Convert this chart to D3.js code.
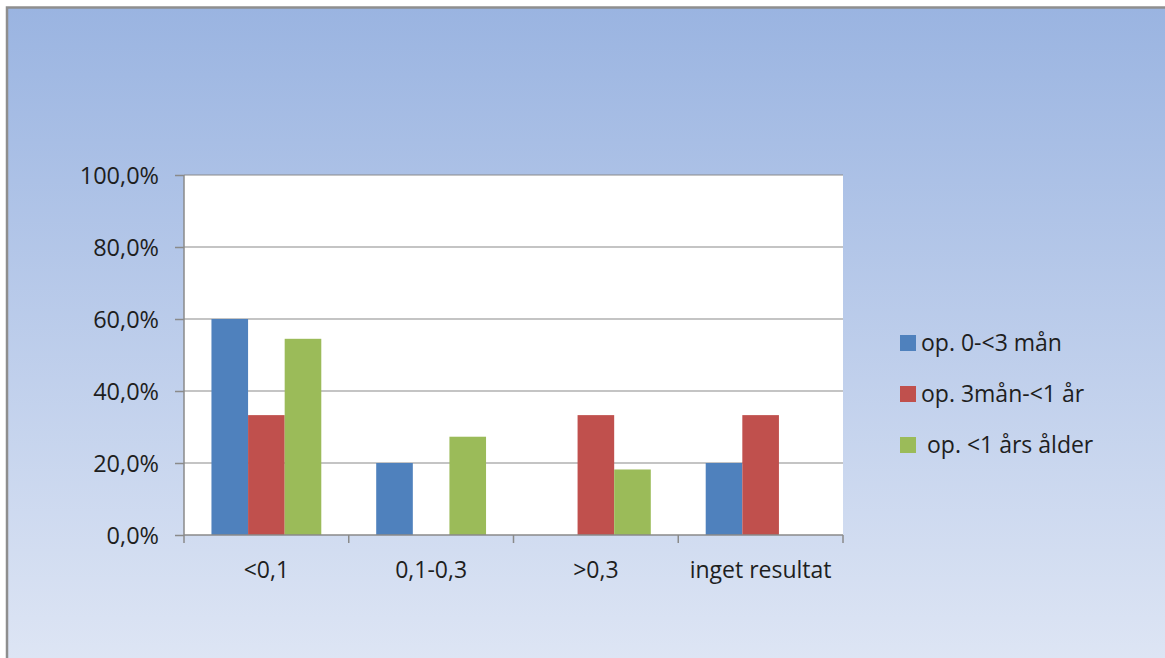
<!DOCTYPE html>
<html><head><meta charset="utf-8">
<script src="https://cdn.jsdelivr.net/npm/d3@7"></script>
<style>html,body{margin:0;padding:0;background:#fff;}svg{display:block;}text{font-family:"Open Sans",sans-serif;fill:#1e1e1e;white-space:pre;}</style>
</head><body>
<script>
const categories = ["<0,1", "0,1-0,3", ">0,3", "inget resultat"];
const seriesNames = ["op. 0-<3 mån", "op. 3mån-<1 år", " op. <1 års ålder"];
const seriesColors = ["#4f81bd", "#c0504d", "#9bbb59"];
const values0 = [0.60, 0.20, 0.0, 0.20];
const values1 = [0.333, 0.0, 0.333, 0.333];
const values2 = [0.545, 0.273, 0.182, 0.0];
const yTicks = [0, 0.2, 0.4, 0.6, 0.8, 1.0];
const yTickLabels = ["0,0%", "20,0%", "40,0%", "60,0%", "80,0%", "100,0%"];

(function () {
const W = 1165, H = 658;
const svg = d3.select("body").append("svg").attr("width", W).attr("height", H);
const defs = svg.append("defs");
const grad = defs.append("linearGradient").attr("id", "bg").attr("x1", 0).attr("y1", 0).attr("x2", 0).attr("y2", 1);
grad.append("stop").attr("offset", "0%").attr("stop-color", "#9ab4e1");
grad.append("stop").attr("offset", "100%").attr("stop-color", "#e0e7f5");

svg.append("rect").attr("x", 7).attr("y", 7.5).attr("width", W + 20).attr("height", H + 20)
  .attr("fill", "url(#bg)").attr("stroke", "#8e8e8e").attr("stroke-width", 2.5);

const pL = 184, pR = 843, pT = 175, pB = 535;
svg.append("rect").attr("x", pL).attr("y", pT).attr("width", pR - pL).attr("height", pB - pT).attr("fill", "#fff");

const x0 = d3.scaleBand().domain(categories).range([pL, pR]).paddingInner(0).paddingOuter(0);
const bw = x0.bandwidth();
const barW = bw / 4.5;
const gap = (bw - 3 * barW) / 2;
const x1 = d3.scaleBand().domain(d3.range(3)).range([gap, bw - gap]).padding(0);
const y = d3.scaleLinear().domain([0, 1]).range([pB, pT]);

// gridlines
svg.append("g").selectAll("line").data(yTicks.filter(d => d > 0)).join("line")
  .attr("x1", pL).attr("x2", pR).attr("y1", d => y(d)).attr("y2", d => y(d))
  .attr("stroke", "#8a8a8a").attr("stroke-width", 1.2);

// bars
const allVals = [values0, values1, values2];
const g = svg.append("g");
categories.forEach((c, ci) => {
  allVals.forEach((vals, si) => {
    const v = vals[ci];
    if (v <= 0) return;
    g.append("rect").attr("x", x0(c) + x1(si)).attr("y", y(v))
      .attr("width", x1.bandwidth()).attr("height", y(0) - y(v))
      .attr("fill", seriesColors[si]);
  });
});

// y axis
const yAxis = d3.axisLeft(y).tickValues(yTicks).tickFormat((d, i) => yTickLabels[i]).tickSize(9).tickPadding(16);
const ya = svg.append("g").attr("transform", `translate(${pL},0)`).call(yAxis);
ya.select(".domain").attr("stroke", "#8a8a8a").attr("stroke-width", 1.5).attr("d", `M0,${pT}V${pB}`);
ya.selectAll(".tick line").attr("stroke", "#8a8a8a").attr("stroke-width", 1.5);
ya.selectAll(".tick text").attr("font-size", 23.5).attr("font-family", "Open Sans").attr("fill", "#1e1e1e").attr("dy", "0.36em");

// x axis
const xa = svg.append("g").attr("transform", `translate(0,${pB})`);
xa.append("line").attr("x1", pL).attr("x2", pR).attr("y1", 0).attr("y2", 0).attr("stroke", "#8a8a8a").attr("stroke-width", 1.5);
const bounds = categories.map(c => x0(c)).concat([x0(categories[categories.length - 1]) + bw]);
xa.selectAll(".xt").data(bounds).join("line").attr("class", "xt")
  .attr("x1", d => d).attr("x2", d => d).attr("y1", 0).attr("y2", 8)
  .attr("stroke", "#8a8a8a").attr("stroke-width", 1.5);
xa.selectAll(".xl").data(categories).join("text").attr("class", "xl")
  .attr("x", d => x0(d) + bw / 2).attr("y", 43).attr("text-anchor", "middle")
  .attr("font-size", 23).text(d => d);

// legend
const legY = [351, 402, 453];
const leg = svg.append("g");
seriesNames.forEach((n, i) => {
  leg.append("rect").attr("x", 900).attr("y", legY[i] - 16).attr("width", 16).attr("height", 16).attr("fill", seriesColors[i]);
  leg.append("text").attr("x", 921).attr("y", legY[i]).attr("font-size", 23).text(n);
});
})();
</script>
</body></html>
